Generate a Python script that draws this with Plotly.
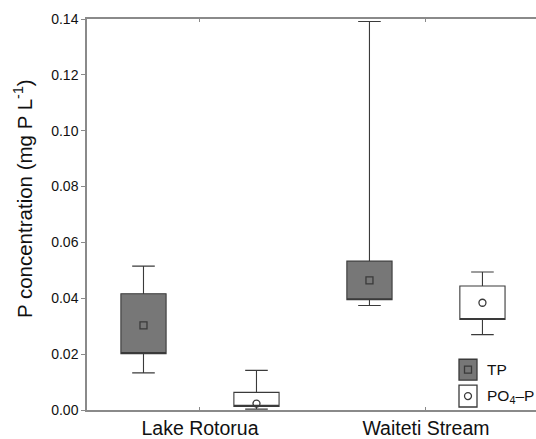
import plotly.graph_objects as go

categories = ["Lake Rotorua", "Waiteti Stream"]
series_names = ["TP", "PO<sub>4</sub>–P"]

tp_whisker_low = [0.0133, 0.0374]
tp_box_low = [0.0202, 0.0395]
tp_mean = [0.0303, 0.0464]
tp_box_high = [0.0416, 0.0533]
tp_whisker_high = [0.0515, 0.1391]

po4_whisker_low = [0.0003, 0.027]
po4_box_low = [0.0013, 0.0324]
po4_mean = [0.0023, 0.0384]
po4_box_high = [0.0063, 0.0444]
po4_whisker_high = [0.0142, 0.0494]

y_ticks = [0.00, 0.02, 0.04, 0.06, 0.08, 0.10, 0.12, 0.14]
y_tick_labels = ["0.00", "0.02", "0.04", "0.06", "0.08", "0.10", "0.12", "0.14"]
y_title = "P concentration (mg P L<sup>-1</sup>)"

GROUP_OFFSET = 0.25
BOX_WIDTH = 0.2
LINE = "#3a3a3a"
AXIS = "#8a8a8a"
FONT = "Liberation Sans, Arial, sans-serif"

W, H = 536, 439
ML, MR, MT, MB = 87, 0, 19, 27
PW, PH = W - ML - MR, H - MT - MB


def px(fx):
    return (fx - ML) / PW


def py(fy):
    return (H - MB - fy) / PH


series = [
    dict(name=series_names[0], lo=tp_whisker_low, q1=tp_box_low, mean=tp_mean,
         q3=tp_box_high, hi=tp_whisker_high, fill="#777777", sym="square-open",
         inner="rect", off=-GROUP_OFFSET),
    dict(name=series_names[1], lo=po4_whisker_low, q1=po4_box_low, mean=po4_mean,
         q3=po4_box_high, hi=po4_whisker_high, fill="#ffffff", sym="circle-open",
         inner="circle", off=GROUP_OFFSET),
]

fig = go.Figure()
for s in series:
    xs = [i + s["off"] for i in range(len(categories))]
    fig.add_trace(go.Box(
        name=s["name"], x=xs,
        q1=s["q1"], q3=s["q3"], median=s["q1"],
        lowerfence=s["lo"], upperfence=s["hi"],
        width=BOX_WIDTH, whiskerwidth=0.5,
        fillcolor=s["fill"], line=dict(color=LINE, width=1.1),
        boxpoints=False, hoverinfo="skip", showlegend=False,
    ))
    fig.add_trace(go.Scatter(
        x=xs, y=s["mean"], mode="markers", showlegend=False,
        marker=dict(symbol=s["sym"], size=7, color=LINE, line=dict(width=1.3, color=LINE)),
        hoverinfo="skip",
    ))

# custom legend (key boxes + labels), placed in paper coordinates
LEG_X0, LEG_X1 = 459, 477
LEG_ROWS = [(361, 382), (387, 409)]
for s, (top, bot) in zip(series, LEG_ROWS):
    fig.add_shape(type="rect", xref="paper", yref="paper",
                  x0=px(LEG_X0), x1=px(LEG_X1), y0=py(bot), y1=py(top),
                  fillcolor=s["fill"], line=dict(color=LINE, width=1.3))
    cx, cy = (LEG_X0 + LEG_X1) / 2, (top + bot) / 2
    fig.add_shape(type=s["inner"], xref="paper", yref="paper",
                  x0=px(cx - 3.5), x1=px(cx + 3.5), y0=py(cy + 3.5), y1=py(cy - 3.5),
                  fillcolor=s["fill"], line=dict(color=LINE, width=1.3))
    fig.add_annotation(text=s["name"], xref="paper", yref="paper",
                       x=px(485), y=py(cy), xanchor="left", yanchor="middle",
                       showarrow=False, font=dict(size=15.5))

fig.add_annotation(
    text=y_title, textangle=-90, xref="paper", yref="paper",
    x=px(23), y=py(200), xanchor="center", yanchor="middle",
    showarrow=False, font=dict(size=20.5),
)

fig.update_layout(
    width=W, height=H,
    margin=dict(l=ML, r=MR, t=MT, b=MB),
    paper_bgcolor="white", plot_bgcolor="white",
    font=dict(family=FONT, size=14, color="#111111"),
    showlegend=False,
    xaxis=dict(
        range=[-0.5, 1.487], tickmode="array",
        tickvals=list(range(len(categories))), ticktext=categories,
        showline=True, linecolor=AXIS, linewidth=1.5, mirror="ticks",
        ticks="inside", ticklen=3, tickcolor=AXIS,
        showgrid=False, zeroline=False, tickfont=dict(size=19.5),
    ),
    yaxis=dict(
        range=[0, 0.14], tickmode="array", tickvals=y_ticks, ticktext=y_tick_labels,
        showline=True, linecolor=AXIS, linewidth=1.5, mirror=False,
        ticks="outside", ticklen=4, tickcolor=AXIS,
        showgrid=False, zeroline=False, tickfont=dict(size=14),
    ),
)

fig.write_html(
    "out.html",
    config={"displayModeBar": False},
    post_script="document.body.style.margin='0';document.body.style.overflow='hidden';",
)
